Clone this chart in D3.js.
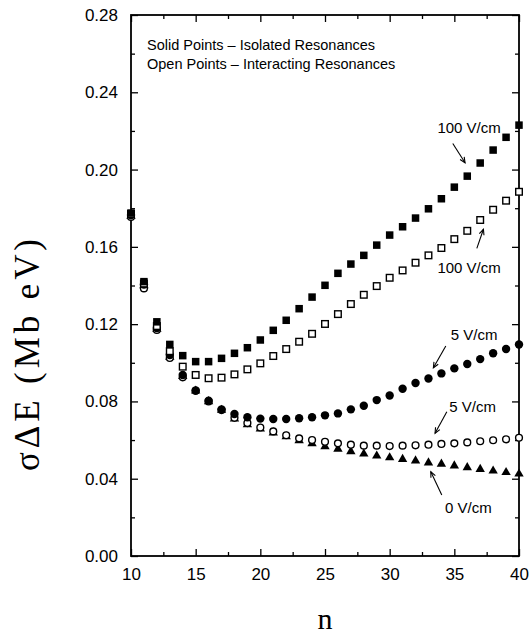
<!DOCTYPE html>
<html>
<head>
<meta charset="utf-8">
<script src="https://cdn.jsdelivr.net/npm/d3@7"></script>
<style>
  html, body { margin: 0; padding: 0; background: #fff; }
  svg { display: block; }
</style>
</head>
<body>
<svg id="chart" width="531" height="635"></svg>
<script>
// ---------- data ----------
const nValues = d3.range(10, 41);
// Solid squares: 100 V/cm, isolated resonances
const iso100 = [0.1775, 0.1420, 0.1212, 0.1095, 0.1037, 0.1006, 0.1006, 0.1023, 0.1049, 0.1078,
                0.1118, 0.1168, 0.1220, 0.1280, 0.1340, 0.1401, 0.1463, 0.1511, 0.1556, 0.1609,
                0.1661, 0.1704, 0.1749, 0.1797, 0.1849, 0.1909, 0.1966, 0.2034, 0.2101, 0.2167, 0.2230];
// Open squares: 100 V/cm, interacting resonances
const int100 = [0.1770, 0.1410, 0.1190, 0.1060, 0.0980, 0.0937, 0.0920, 0.0923, 0.0940, 0.0966,
                0.0997, 0.1035, 0.1071, 0.1109, 0.1150, 0.1201, 0.1252, 0.1304, 0.1352, 0.1397,
                0.1440, 0.1478, 0.1518, 0.1556, 0.1594, 0.1640, 0.1683, 0.1739, 0.1792, 0.1839, 0.1885];
// Solid circles: 5 V/cm, isolated
const iso5 = [0.1765, 0.1405, 0.1180, 0.1040, 0.0937, 0.0857, 0.0804, 0.0759, 0.0735, 0.0718,
              0.0711, 0.0709, 0.0709, 0.0713, 0.0718, 0.0728, 0.0738, 0.0759, 0.0778, 0.0807,
              0.0831, 0.0866, 0.0895, 0.0919, 0.0945, 0.0971, 0.0994, 0.1019, 0.1049, 0.1071, 0.1095];
// Open circles: 5 V/cm, interacting
const int5 = [0.1755, 0.1385, 0.1170, 0.1025, 0.0925, 0.0855, 0.0800, 0.0755, 0.0715, 0.0688,
              0.0665, 0.0645, 0.0625, 0.0609, 0.0600, 0.0591, 0.0583, 0.0576, 0.0571, 0.0571,
              0.0569, 0.0571, 0.0573, 0.0576, 0.0580, 0.0583, 0.0588, 0.0594, 0.0599, 0.0604, 0.0612];
// Solid triangles: 0 V/cm
const zero = [0.1760, 0.1400, 0.1175, 0.1030, 0.0930, 0.0855, 0.0800, 0.0755, 0.0710, 0.0680,
              0.0658, 0.0638, 0.0618, 0.0598, 0.0582, 0.0566, 0.0554, 0.0541, 0.0529, 0.0518,
              0.0509, 0.0501, 0.0493, 0.0483, 0.0476, 0.0467, 0.0458, 0.0449, 0.0441, 0.0433, 0.0425];

const xTicks = [10, 15, 20, 25, 30, 35, 40];
const xMinorTicks = [12.5, 17.5, 22.5, 27.5, 32.5, 37.5];
const yTicks = [0.00, 0.04, 0.08, 0.12, 0.16, 0.20, 0.24, 0.28];
const yMinorTicks = [0.02, 0.06, 0.10, 0.14, 0.18, 0.22, 0.26];

const legendLines = ["Solid Points \u2013 Isolated Resonances", "Open Points \u2013 Interacting Resonances"];
// annotation: label, label anchor (n, value), arrow from (n,value) to (n,value)
const annLabels = ["100 V/cm", "100 V/cm", "5 V/cm", "5 V/cm", "0 V/cm"];
const annText = [[36.14, 0.2191], [36.14, 0.1464], [36.53, 0.1118], [36.41, 0.0745], [36.09, 0.0223]];
const annFrom = [[34.88, 0.2135], [36.74, 0.1592], [34.34, 0.1087], [34.42, 0.0747], [34.03, 0.0316]];
const annTo   = [[35.83, 0.2035], [37.25, 0.1691], [33.38, 0.0974], [33.51, 0.0635], [33.18, 0.0436]];

// ---------- layout ----------
const svg = d3.select("#chart");
const L = 131, R = 519, T = 15, B = 556;
const x = d3.scaleLinear().domain([10, 40]).range([L, R]);
const y = d3.scaleLinear().domain([0, 0.28]).range([B, T]);

const sans = "'Liberation Sans', Arial, Helvetica, sans-serif";
const serif = "'Liberation Serif', 'Times New Roman', serif";

function styleAxis(g, fontSize) {
  g.select(".domain").remove();
  g.selectAll(".tick line").attr("stroke", "#000").attr("stroke-width", 1.3);
  g.selectAll(".tick text").attr("font-family", sans).attr("font-size", fontSize).attr("fill", "#000");
}

// bottom axis (ticks inward)
const gxB = svg.append("g").attr("transform", `translate(0,${B})`)
  .call(d3.axisBottom(x).tickValues(xTicks).tickSize(-7).tickPadding(12).tickFormat(d3.format("d")));
styleAxis(gxB, 17);
svg.append("g").attr("transform", `translate(0,${B})`)
  .call(d3.axisBottom(x).tickValues(xMinorTicks).tickSize(-4).tickFormat(""))
  .call(g => styleAxis(g, 17));
// top axis
svg.append("g").attr("transform", `translate(0,${T})`)
  .call(d3.axisTop(x).tickValues(xTicks).tickSize(-7).tickFormat(""))
  .call(g => styleAxis(g, 17));
svg.append("g").attr("transform", `translate(0,${T})`)
  .call(d3.axisTop(x).tickValues(xMinorTicks).tickSize(-4).tickFormat(""))
  .call(g => styleAxis(g, 17));
// left axis
const gyL = svg.append("g").attr("transform", `translate(${L},0)`)
  .call(d3.axisLeft(y).tickValues(yTicks).tickSize(-7).tickPadding(13).tickFormat(d3.format(".2f")));
styleAxis(gyL, 17);
svg.append("g").attr("transform", `translate(${L},0)`)
  .call(d3.axisLeft(y).tickValues(yMinorTicks).tickSize(-4).tickFormat(""))
  .call(g => styleAxis(g, 17));
// right axis
svg.append("g").attr("transform", `translate(${R},0)`)
  .call(d3.axisRight(y).tickValues(yTicks).tickSize(-7).tickFormat(""))
  .call(g => styleAxis(g, 17));
svg.append("g").attr("transform", `translate(${R},0)`)
  .call(d3.axisRight(y).tickValues(yMinorTicks).tickSize(-4).tickFormat(""))
  .call(g => styleAxis(g, 17));

// frame
svg.append("rect").attr("x", L).attr("y", T).attr("width", R - L).attr("height", B - T)
  .attr("fill", "none").attr("stroke", "#000").attr("stroke-width", 1.8);

// axis titles
svg.append("text").attr("x", x(25)).attr("y", 629).attr("text-anchor", "middle")
  .attr("font-family", serif).attr("font-size", 30).attr("fill", "#000").text("n");
svg.append("text")
  .attr("transform", `translate(39,${(237 + 473) / 2}) rotate(-90)`)
  .attr("text-anchor", "middle")
  .attr("font-family", serif).attr("font-size", 35).attr("fill", "#000")
  .attr("textLength", 232).attr("lengthAdjust", "spacing")
  .text("\u03c3\u0394E (Mb eV)");

// legend text
svg.selectAll("text.legend").data(legendLines).join("text").attr("class", "legend")
  .attr("x", 147).attr("y", (d, i) => 50 + i * 19)
  .attr("font-family", sans).attr("font-size", 14.5).attr("fill", "#000").text(d => d);

// ---------- markers ----------
const pts = arr => arr.map((v, i) => ({ n: nValues[i], v }));
const gm = svg.append("g");
const sq = 7.5;
// 0 V/cm triangles
gm.selectAll("path.tri").data(pts(zero)).join("path").attr("class", "tri")
  .attr("transform", d => `translate(${x(d.n)},${y(d.v)})`)
  .attr("d", d3.symbol().type(d3.symbolTriangle).size(38)).attr("fill", "#000");
// open circles 5 V/cm
gm.selectAll("circle.oc").data(pts(int5)).join("circle").attr("class", "oc")
  .attr("cx", d => x(d.n)).attr("cy", d => y(d.v)).attr("r", 3.4)
  .attr("fill", "#fff").attr("stroke", "#000").attr("stroke-width", 1.4);
// filled circles 5 V/cm
gm.selectAll("circle.fc").data(pts(iso5)).join("circle").attr("class", "fc")
  .attr("cx", d => x(d.n)).attr("cy", d => y(d.v)).attr("r", 4.2).attr("fill", "#000");
// open squares 100 V/cm
gm.selectAll("rect.os").data(pts(int100)).join("rect").attr("class", "os")
  .attr("x", d => x(d.n) - 3.3).attr("y", d => y(d.v) - 3.3).attr("width", 6.6).attr("height", 6.6)
  .attr("fill", "#fff").attr("stroke", "#000").attr("stroke-width", 1.4);
// filled squares 100 V/cm
gm.selectAll("rect.fs").data(pts(iso100)).join("rect").attr("class", "fs")
  .attr("x", d => x(d.n) - sq / 2).attr("y", d => y(d.v) - sq / 2).attr("width", sq).attr("height", sq)
  .attr("fill", "#000");

// ---------- annotations ----------
const ga = svg.append("g");
annLabels.forEach((lab, i) => {
  ga.append("text").attr("x", x(annText[i][0])).attr("y", y(annText[i][1]))
    .attr("text-anchor", "middle").attr("font-family", sans).attr("font-size", 15)
    .attr("fill", "#000").text(lab);
  const x1 = x(annFrom[i][0]), y1 = y(annFrom[i][1]);
  const x2 = x(annTo[i][0]), y2 = y(annTo[i][1]);
  ga.append("line").attr("x1", x1).attr("y1", y1).attr("x2", x2).attr("y2", y2)
    .attr("stroke", "#000").attr("stroke-width", 1.1);
  const ang = Math.atan2(y2 - y1, x2 - x1), hl = 6, ha = 0.42;
  const p1 = [x2 - hl * Math.cos(ang - ha), y2 - hl * Math.sin(ang - ha)];
  const p2 = [x2 - hl * Math.cos(ang + ha), y2 - hl * Math.sin(ang + ha)];
  ga.append("path").attr("d", `M${p1[0]},${p1[1]}L${x2},${y2}L${p2[0]},${p2[1]}`)
    .attr("fill", "none").attr("stroke", "#000").attr("stroke-width", 1.1);
});
</script>
</body>
</html>
